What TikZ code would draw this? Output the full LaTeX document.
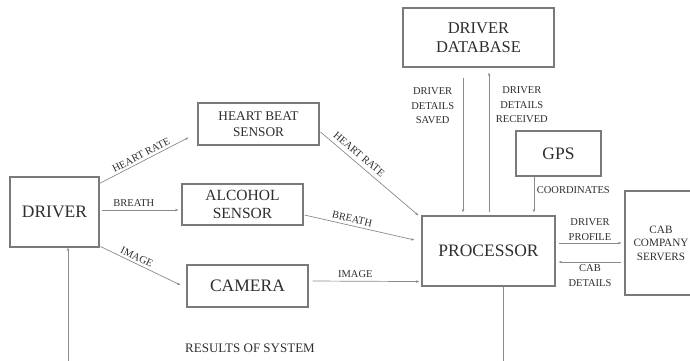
\documentclass[tikz,border=0pt]{standalone}
\usepackage{fontspec}
\setmainfont{Liberation Serif}
\usetikzlibrary{arrows.meta}
\definecolor{linegray}{HTML}{8A8A8A}
\definecolor{boxgray}{HTML}{7A7A7A}
\definecolor{txtgray}{HTML}{2E2E2E}

\begin{document}
\begin{tikzpicture}[
        x=1pt, y=-1pt,
        box/.style={draw=boxgray, line width=1.1pt, align=center, inner sep=0pt, text=txtgray},
        big/.style={font=\fontsize{17.5}{20}\selectfont},
        flow/.style={draw=linegray, line width=0.7pt, -{Stealth[length=3.5pt,width=2.5pt]}},
        lbl/.style={text=txtgray, font=\fontsize{10.5}{14.5}\selectfont, align=center, inner sep=1.5pt}
    ]
    \clip (0,0) rectangle (690,360);

    % boxes
    \node[box, big, minimum width=89pt, minimum height=70pt] (drv) at (54.5,212) {DRIVER};
    \node[box, font=\fontsize{13.3}{16.5}\selectfont, minimum width=121pt, minimum height=42pt] (hb) at (258.5,124) {HEART BEAT\\SENSOR};
    \node[box, font=\fontsize{15.5}{18}\selectfont, minimum width=121pt, minimum height=41pt] (alc) at (242.5,204.5) {ALCOHOL\\SENSOR};
    \node[box, big, minimum width=121pt, minimum height=42pt] (cam) at (247.5,286) {CAMERA};
    \node[box, big, minimum width=133pt, minimum height=70pt] (proc) at (488.5,251) {PROCESSOR};
    \node[box, font=\fontsize{16.5}{19}\selectfont, minimum width=151pt, minimum height=59pt] (db) at (478.5,37.5) {DRIVER\\DATABASE};
    \node[box, big, minimum width=85pt, minimum height=45pt] (gps) at (558.5,153.5) {GPS};
    \node[box, minimum width=76pt, minimum height=104pt] (cab) at (663,243) {};
    \node[text=txtgray, align=center, font=\fontsize{11.2}{13.5}\selectfont, inner sep=0pt] (cabtxt) at (661,243) {CAB\\COMPANY\\SERVERS};

    % driver to sensors
    \draw[flow] ([yshift=-7pt]drv.north east) -- node[lbl, sloped, above=1pt] {HEART RATE} ([xshift=-9pt,yshift=8pt]hb.south west);
    \draw[flow] ([xshift=2pt,yshift=2pt]drv.east) -- node[lbl, pos=0.42, above=2pt] {BREATH} ([xshift=-3pt,yshift=-5.5pt]alc.west);
    \draw[flow] ([xshift=1pt,yshift=1pt]drv.south east) -- node[lbl, pos=0.42, sloped, above=1pt] {IMAGE} ([xshift=-6pt,yshift=1pt]cam.west);

    % sensors to processor
    \draw[flow] ([xshift=1pt,yshift=-8pt]hb.east) -- node[lbl, pos=0.34, sloped, above=3pt] {HEART RATE} ([xshift=-3pt]proc.north west);
    \draw[flow] ([xshift=1pt,yshift=-10.5pt]alc.east) -- node[lbl, pos=0.42, sloped, above=1.5pt] {BREATH} ([xshift=-7pt,yshift=11pt]proc.west);
    \draw[flow] ([xshift=4pt,yshift=5pt]cam.east) -- node[lbl, pos=0.4, above=2pt] {IMAGE} ([xshift=-2pt,yshift=5pt]proc.south west);

    % database and gps
    \draw[flow] ([xshift=-15.5pt,yshift=-10pt]db.south) -- node[lbl, pos=0.21, left=7pt] {DRIVER\\DETAILS\\SAVED} ([xshift=-25.5pt,yshift=3pt]proc.north);
    \draw[flow] ([xshift=0.5pt,yshift=3pt]proc.north) -- node[lbl, pos=0.77, right=5pt] {DRIVER\\DETAILS\\RECEIVED} ([xshift=10.5pt,yshift=-5pt]db.south);
    \draw[flow] ([xshift=-24.5pt]gps.south) -- node[lbl, pos=0.38, right=1pt] {COORDINATES} ([xshift=45.5pt,yshift=3pt]proc.north);

    % cab company
    \draw[flow] ([xshift=3pt,yshift=8pt]proc.east) -- node[lbl, above=1pt] {DRIVER\\PROFILE} ([xshift=-3pt]cab.west);
    \draw[flow] ([xshift=-3pt,yshift=-19pt]cab.west) -- node[lbl, below=1pt] {CAB\\DETAILS} ([xshift=3pt,yshift=-11pt]proc.east);

    % results back to driver
    \coordinate (outp) at (503,366);
    \coordinate (inp) at (68,366);
    \draw[draw=linegray, line width=0.7pt] ([xshift=14.5pt]proc.south) -- (outp);
    \draw[flow] (inp) -- ([xshift=13.5pt]drv.south);
    \node[lbl, font=\fontsize{13}{15}\selectfont] (res) at (250,348) {RESULTS OF SYSTEM};
\end{tikzpicture}
\end{document}
